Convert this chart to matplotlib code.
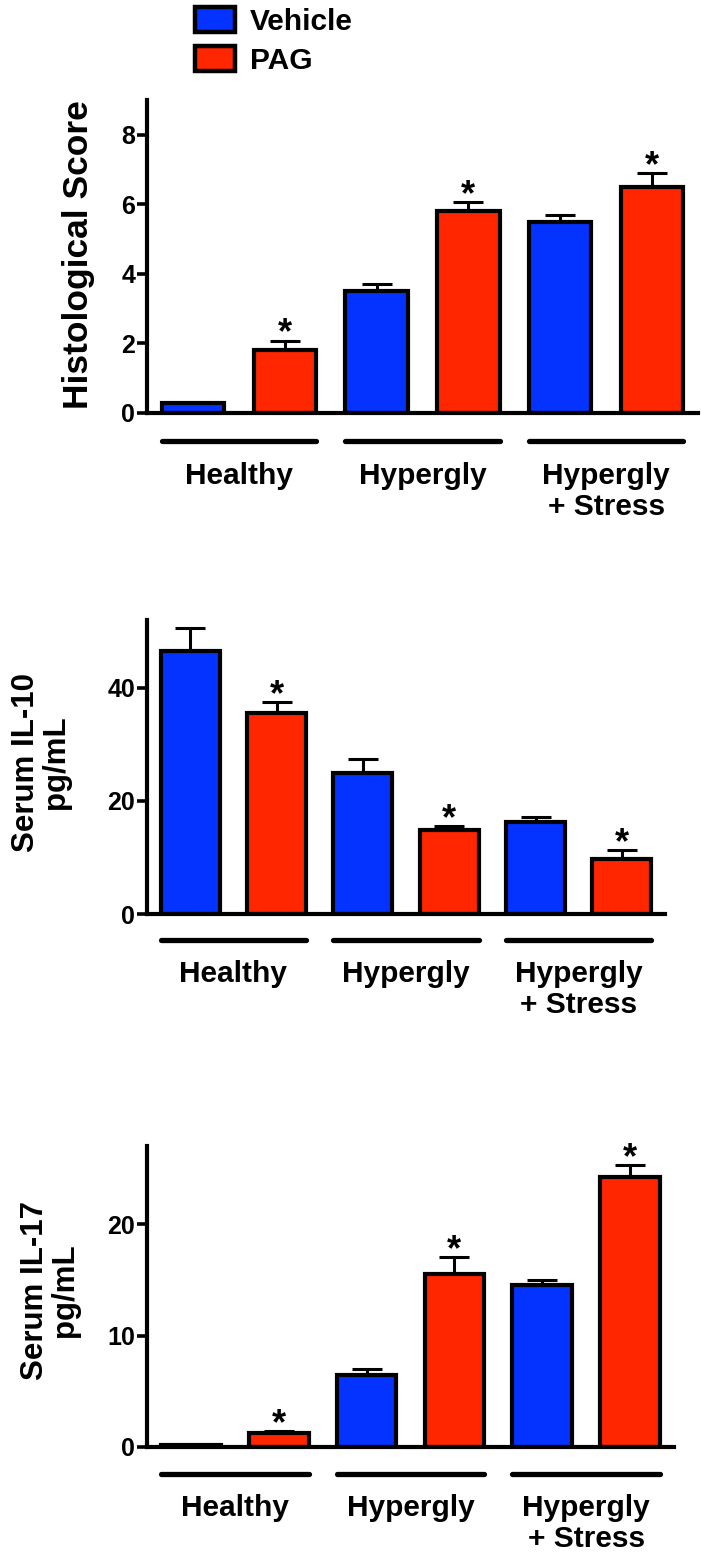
import matplotlib
matplotlib.use('Agg')
import matplotlib.pyplot as plt
from matplotlib.patches import Patch

plt.rcParams['font.family'] = ['Liberation Sans', 'DejaVu Sans']
plt.rcParams['font.weight'] = 'bold'

# data
groups = ['Healthy', 'Hypergly', 'Hypergly\n+ Stress']
legend_labels = ['Vehicle', 'PAG']

histo_vehicle = [0.3, 3.5, 5.5]
histo_vehicle_err = [0.0, 0.2, 0.18]
histo_pag = [1.8, 5.8, 6.5]
histo_pag_err = [0.28, 0.26, 0.4]

il10_vehicle = [46.5, 24.9, 16.3]
il10_vehicle_err = [4.0, 2.5, 0.8]
il10_pag = [35.5, 14.9, 9.8]
il10_pag_err = [2.0, 0.6, 1.5]

il17_vehicle = [0.2, 6.5, 14.5]
il17_vehicle_err = [0.0, 0.5, 0.5]
il17_pag = [1.25, 15.5, 24.2]
il17_pag_err = [0.15, 1.5, 1.1]

blue = '#0433FF'
red = '#FF2600'

W, H = 701, 1557
fig = plt.figure(figsize=(W / 100, H / 100), dpi=100)


def panel(box, veh, veh_err, pag, pag_err, ylim, yticks, ylabel, label_xy, ylabel_size):
    left, right, top, bottom = box
    ax = fig.add_axes([left / W, 1 - bottom / H, (right - left) / W, (bottom - top) / H])
    xs, vals, errs, cols = [], [], [], []
    for g in range(3):
        xs += [2 * g, 2 * g + 1]
        vals += [veh[g], pag[g]]
        errs += [veh_err[g], pag_err[g]]
        cols += [blue, red]
    ax.errorbar(xs, vals, yerr=[[0] * 6, errs], fmt='none', ecolor='black',
                elinewidth=2.2, capsize=11, capthick=2.2, zorder=1)
    ax.bar(xs, vals, width=0.68, color=cols, edgecolor='black', linewidth=3, zorder=2)

    # significance stars over PAG bars
    for g in range(3):
        ax.annotate('*', xy=(2 * g + 1, pag[g] + pag_err[g]), xytext=(0, -3),
                    textcoords='offset pixels', ha='center', va='baseline',
                    fontsize=26, fontweight='bold', annotation_clip=False)

    # group underline and label
    tr = ax.get_xaxis_transform()
    for g in range(3):
        ax.plot([2 * g - 0.34, 2 * g + 1.34], [-0.089, -0.089], transform=tr,
                color='black', lw=3.8, solid_capstyle='round', clip_on=False)
        ax.text(2 * g + 0.5, -0.155, groups[g], transform=tr, ha='center', va='top',
                fontsize=21.5, fontweight='bold', linespacing=1.15)

    ax.set_xlim(-0.5, 5.5)
    ax.set_ylim(*ylim)
    ax.set_yticks(yticks)
    ax.set_xticks([])
    ax.spines['top'].set_visible(False)
    ax.spines['right'].set_visible(False)
    ax.spines['left'].set_linewidth(3)
    ax.spines['bottom'].set_linewidth(3)
    ax.tick_params(axis='y', length=7.5, width=2.6, pad=1, labelsize=18)
    for t in ax.get_yticklabels():
        t.set_fontweight('bold')
    ax.set_ylabel(ylabel, fontsize=ylabel_size, fontweight='bold', linespacing=1.0)
    ax.yaxis.label.set_va('center')
    ax.yaxis.set_label_coords(*label_xy)
    return ax


panel((147, 698, 100, 413), histo_vehicle, histo_vehicle_err, histo_pag, histo_pag_err,
      (0, 9), [0, 2, 4, 6, 8], 'Histological Score', (-0.125, 0.505), 25.5)
panel((147, 665, 620, 914), il10_vehicle, il10_vehicle_err, il10_pag, il10_pag_err,
      (0, 52), [0, 20, 40], 'Serum IL-10\npg/mL', (-0.205, 0.517), 22.5)
panel((147, 674, 1146, 1447), il17_vehicle, il17_vehicle_err, il17_pag, il17_pag_err,
      (0, 27), [0, 10, 20], 'Serum IL-17\npg/mL', (-0.184, 0.52), 22.5)

handles = [Patch(facecolor=blue, edgecolor='black', linewidth=3.2),
           Patch(facecolor=red, edgecolor='black', linewidth=3.2)]
fig.legend(handles, legend_labels, loc='upper left', bbox_to_anchor=(195 / W, 1 - 7 / H),
           frameon=False, handlelength=1.35, handleheight=0.9,
           handletextpad=0.5, labelspacing=0.35, borderpad=0, borderaxespad=0,
           prop={'weight': 'bold', 'size': 21.5})

fig.savefig('out.png', dpi=100)
